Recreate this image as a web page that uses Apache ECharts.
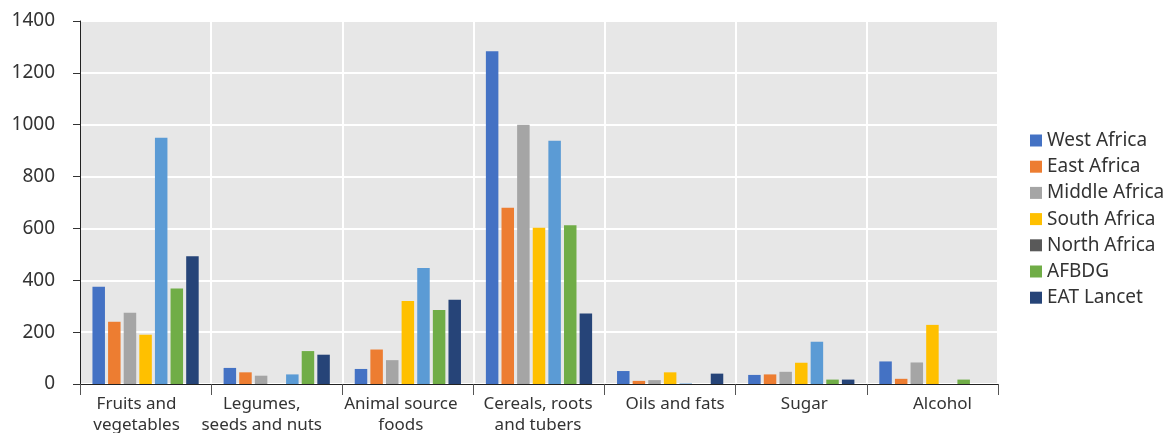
<!DOCTYPE html>
<html><head><meta charset="utf-8">
<script src="https://cdn.jsdelivr.net/npm/echarts@6/dist/echarts.min.js"></script>
<style>html,body{margin:0;padding:0;background:#fff}#c{width:1173px;height:433px}</style>
</head><body><div id="c"></div>
<script>
const categories = ['Fruits and\nvegetables','Legumes,\nseeds and nuts','Animal source\nfoods','Cereals, roots\nand tubers','Oils and fats','Sugar','Alcohol'];
const seriesNames = ['West Africa','East Africa','Middle Africa','South Africa','North Africa','AFBDG','EAT Lancet'];
const westAfrica   = [375, 62, 58, 1283, 50, 35, 87];
const eastAfrica   = [240, 45, 133, 680, 12, 37, 20];
const middleAfrica = [275, 32, 92, 1000, 15, 47, 83];
const southAfrica  = [190, 0, 320, 603, 45, 82, 228];
const northAfrica  = [950, 37, 447, 938, 2, 163, 0];
const afbdg        = [368, 127, 285, 612, 0, 17, 17];
const eatLancet    = [493, 113, 325, 272, 40, 17, 0];
const values = [westAfrica, eastAfrica, middleAfrica, southAfrica, northAfrica, afbdg, eatLancet];
const barColors = ['#4472c4','#ed7d31','#a5a5a5','#ffc000','#5b9bd5','#70ad47','#264478'];
const legendColors = ['#4472c4','#ed7d31','#a5a5a5','#ffc000','#595959','#70ad47','#264478'];
// horizontal nudge of each category label (layout, px)
const labelShift = [-9, -15, -7, -1, 5, 3, 10];

const font = '"Noto Sans", "Open Sans", sans-serif';
const rich = {};
labelShift.forEach((s, i) => {
  rich['r' + i] = {
    fontFamily: font, fontSize: 17, color: '#333', lineHeight: 21,
    padding: s < 0 ? [0, -2 * s, 0, 0] : [0, 0, 0, 2 * s]
  };
});

const chart = echarts.init(document.getElementById('c'));
chart.setOption({
  animation: false,
  grid: {left: 80, right: 175, top: 21, bottom: 49, show: true, backgroundColor: '#e7e7e7', borderWidth: 0, outerBoundsMode: 'none', containLabel: false},
  legend: {
    orient: 'vertical', left: 1025, top: 126, itemWidth: 12, itemHeight: 12, itemGap: 7.2, itemTextGap: 4,
    icon: 'rect',
    textStyle: {fontFamily: font, fontSize: 19, color: '#333'},
    data: seriesNames.map((n, i) => ({name: n, itemStyle: {color: legendColors[i]}}))
  },
  xAxis: {
    type: 'category', data: categories,
    axisLine: {lineStyle: {color: '#222', width: 1}},
    axisTick: {show: true, length: 11, lineStyle: {color: '#555'}},
    splitLine: {show: true, lineStyle: {color: '#ffffff', width: 2}},
    axisLabel: {
      fontFamily: font, fontSize: 17, color: '#333', lineHeight: 21, margin: 10, interval: 0,
      formatter: (v, idx) => v.split('\n').map(l => '{r' + idx + '|' + l + '}').join('\n'),
      rich: rich
    }
  },
  yAxis: {
    type: 'value', min: 0, max: 1400, interval: 200,
    axisLine: {show: true, lineStyle: {color: '#222'}},
    axisTick: {show: true, length: 7, lineStyle: {color: '#333'}},
    splitLine: {lineStyle: {color: '#ffffff', width: 2}},
    axisLabel: {fontFamily: font, fontSize: 19, color: '#333', margin: 25, formatter: v => String(v)}
  },
  series: values.map((v, i) => ({
    name: seriesNames[i], type: 'bar', data: v,
    barGap: '25%', barCategoryGap: '19%',
    itemStyle: {color: barColors[i]}
  }))
});
</script></body></html>
